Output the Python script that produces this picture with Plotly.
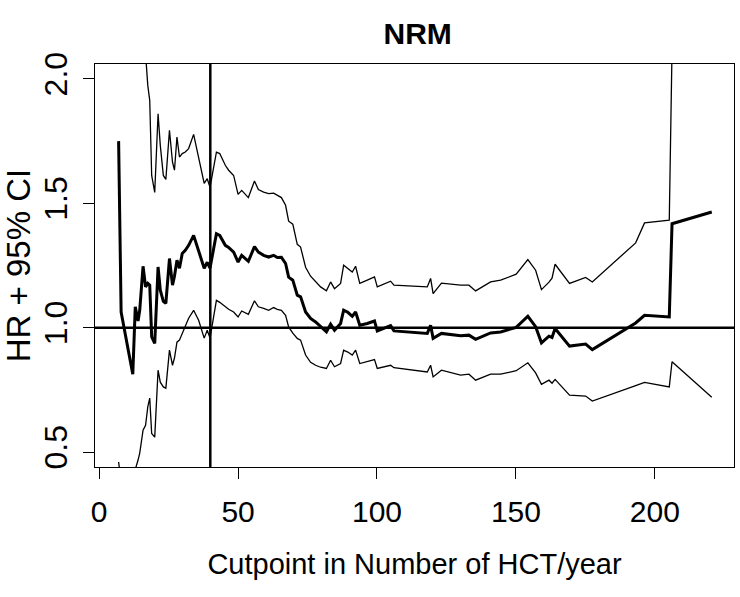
import plotly.graph_objects as go

# Cutpoint (number of HCT/year)
cutpoint = [7.0, 7.9, 12.1, 13.0, 14.0, 14.6, 15.8, 16.7, 17.5, 18.2,
            18.9, 20.0, 21.2, 22.0, 23.1, 24.0, 25.3, 26.4, 27.1, 28.0,
            28.9, 29.9, 31.0, 32.2, 34.0, 35.8, 37.8, 38.9, 39.9, 42.2,
            43.4, 45.4, 46.6, 48.4, 50.0, 51.3, 53.7, 55.9, 57.3, 59.2,
            61.0, 62.8, 64.1, 65.6, 67.1, 68.2, 69.7, 71.3, 72.5, 74.3,
            76.1, 77.9, 79.7, 81.8, 83.3, 84.7, 86.9, 88.0, 89.5, 91.1,
            92.3, 93.8, 96.5, 99.1, 100.1, 103.1, 104.9, 106.1, 118.1, 119.3,
            120.2, 123.2, 130.1, 133.1, 135.5, 140.9, 144.5, 150.1, 154.3, 157.1,
            159.2, 161.9, 163.0, 164.1, 169.3, 175.1, 177.5, 193.1, 196.3, 205.2,
            206.2, 220.5]

# Hazard ratio
hr = [1.750, 1.063, 0.813, 1.084, 1.027, 1.070, 1.247, 1.164, 1.178, 1.171,
      0.963, 0.937, 1.244, 1.151, 1.106, 1.098, 1.278, 1.171, 1.207, 1.271,
      1.239, 1.298, 1.311, 1.331, 1.371, 1.311, 1.239, 1.263, 1.239, 1.378,
      1.371, 1.331, 1.323, 1.304, 1.264, 1.291, 1.267, 1.326, 1.304, 1.291,
      1.284, 1.291, 1.282, 1.283, 1.258, 1.203, 1.191, 1.131, 1.124, 1.063,
      1.037, 1.023, 1.006, 0.983, 1.014, 0.990, 1.017, 1.070, 1.062, 1.046,
      1.063, 1.010, 1.017, 1.027, 0.987, 1.002, 1.008, 0.987, 0.977, 1.010,
      0.957, 0.977, 0.968, 0.970, 0.953, 0.979, 0.983, 1.001, 1.046, 1.004,
      0.939, 0.966, 0.961, 0.997, 0.926, 0.934, 0.912, 1.019, 1.050, 1.043,
      1.418, 1.465]

# Upper 95% CI
ci_upper = [3.8, 3.0, 3.5, 3.0, 3.2, 3.0, 2.6, 2.1, 1.974, 1.914,
            1.612, 1.544, 1.860, 1.733, 1.612, 1.596, 1.793, 1.665, 1.633, 1.766,
            1.686, 1.700, 1.706, 1.720, 1.777, 1.686, 1.580, 1.599, 1.564, 1.706,
            1.700, 1.653, 1.633, 1.612, 1.536, 1.552, 1.523, 1.590, 1.555, 1.545,
            1.539, 1.541, 1.532, 1.523, 1.492, 1.428, 1.416, 1.335, 1.324, 1.243,
            1.207, 1.187, 1.164, 1.148, 1.184, 1.157, 1.178, 1.251, 1.238, 1.224,
            1.247, 1.178, 1.191, 1.204, 1.164, 1.178, 1.187, 1.171, 1.164, 1.198,
            1.137, 1.179, 1.171, 1.171, 1.148, 1.184, 1.191, 1.215, 1.274, 1.231,
            1.153, 1.183, 1.199, 1.255, 1.178, 1.202, 1.184, 1.341, 1.421, 1.432,
            12.0, 12.0]

# Lower 95% CI
ci_lower = [0.460, 0.38, 0.30, 0.43, 0.468, 0.496, 0.588, 0.608, 0.682, 0.717,
            0.575, 0.560, 0.829, 0.781, 0.762, 0.757, 0.910, 0.849, 0.878, 0.942,
            0.950, 0.978, 1.006, 1.038, 1.070, 1.030, 0.958, 0.990, 0.958, 1.110,
            1.102, 1.084, 1.074, 1.063, 1.043, 1.067, 1.054, 1.108, 1.084, 1.078,
            1.070, 1.081, 1.074, 1.070, 1.050, 1.003, 0.978, 0.957, 0.950, 0.890,
            0.861, 0.849, 0.841, 0.836, 0.869, 0.843, 0.856, 0.910, 0.902, 0.890,
            0.910, 0.856, 0.865, 0.872, 0.836, 0.845, 0.849, 0.839, 0.822, 0.849,
            0.802, 0.829, 0.809, 0.813, 0.789, 0.813, 0.813, 0.827, 0.859, 0.818,
            0.772, 0.789, 0.777, 0.792, 0.729, 0.725, 0.705, 0.767, 0.780, 0.762,
            0.863, 0.720]

x_ticks = [0, 50, 100, 150, 200]
y_ticks = [0.5, 1.0, 1.5, 2.0]
y_tick_text = ["0.5", "1.0", "1.5", "2.0"]

ref_cutpoint = 40
ref_hr = 1.0

FONT = "Liberation Sans, Arial, Helvetica, sans-serif"

fig = go.Figure()
fig.add_trace(go.Scatter(x=cutpoint, y=ci_upper, mode="lines",
                         line=dict(color="black", width=1.3), showlegend=False))
fig.add_trace(go.Scatter(x=cutpoint, y=ci_lower, mode="lines",
                         line=dict(color="black", width=1.3), showlegend=False))
fig.add_trace(go.Scatter(x=cutpoint, y=hr, mode="lines",
                         line=dict(color="black", width=3), showlegend=False))

fig.add_shape(type="line", xref="paper", yref="y", x0=0, x1=1, y0=ref_hr, y1=ref_hr,
              line=dict(color="black", width=2.5))
fig.add_shape(type="line", xref="x", yref="paper", x0=ref_cutpoint, x1=ref_cutpoint, y0=0, y1=1,
              line=dict(color="black", width=2.5))

fig.update_layout(
    width=740, height=597,
    margin=dict(l=95, r=6, t=64, b=130),
    paper_bgcolor="white", plot_bgcolor="white",
    font=dict(family=FONT, color="black", size=29),
    title=dict(text="<b>NRM</b>", x=0.505, xref="paper", xanchor="center",
               y=1 - 33 / 597, yref="container", yanchor="middle",
               font=dict(size=30, family=FONT, color="black")),
    xaxis=dict(range=[-1.5, 228.5], tickvals=x_ticks, ticks="outside", ticklen=11,
               tickwidth=1.3, tickcolor="black", showline=True, mirror=True,
               linecolor="black", linewidth=1.3, showgrid=False, zeroline=False,
               tickfont=dict(size=30), ticklabelstandoff=7,
               title=dict(text="Cutpoint in Number of HCT/year", font=dict(size=29), standoff=26)),
    yaxis=dict(range=[0.44, 2.06], tickvals=y_ticks, ticktext=y_tick_text, ticks="outside",
               ticklen=11, tickwidth=1.3, tickcolor="black", showline=True, mirror=True,
               linecolor="black", linewidth=1.3, showgrid=False, zeroline=False,
               tickangle=-90, tickfont=dict(size=32), ticklabelstandoff=3,
               title=dict(text="HR + 95% CI", font=dict(size=33), standoff=6)),
)

fig.write_html("out.html")
